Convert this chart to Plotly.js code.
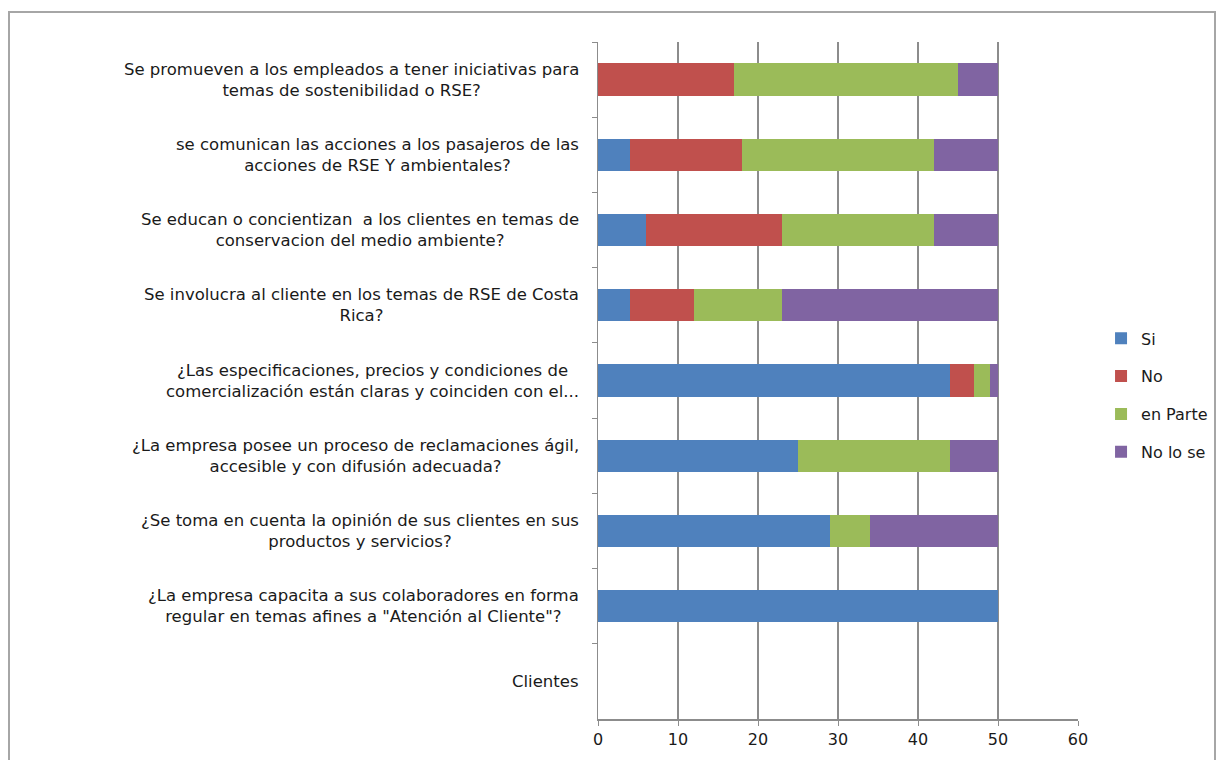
<!DOCTYPE html>
<html>
<head>
<meta charset="utf-8">
<script src="https://cdn.plot.ly/plotly-3.0.1.min.js"></script>
<style>
html,body{margin:0;padding:0;background:#fff;}
#chart{width:1220px;height:760px;}
</style>
</head>
<body>
<div id="chart"></div>
<script>
var categories = [
  "Se promueven a los empleados a tener iniciativas para<br>temas de sostenibilidad o RSE?",
  "se comunican las acciones a los pasajeros de las<br>acciones de RSE Y ambientales?",
  "Se educan o concientizan  a los clientes en temas de<br>conservacion del medio ambiente?",
  "Se involucra al cliente en los temas de RSE de Costa<br>Rica?",
  "¿Las especificaciones, precios y condiciones de<br>comercialización están claras y coinciden con el...",
  "¿La empresa posee un proceso de reclamaciones ágil,<br>accesible y con difusión adecuada?",
  "¿Se toma en cuenta la opinión de sus clientes en sus<br>productos y servicios?",
  "¿La empresa capacita a sus colaboradores en forma<br>regular en temas afines a \"Atención al Cliente\"?",
  "Clientes"
];
var si      = [0, 4, 6, 4, 44, 25, 29, 50, null];
var no      = [17, 14, 17, 8, 3, 0, 0, 0, null];
var enParte = [28, 24, 19, 11, 2, 19, 5, 0, null];
var noLoSe  = [5, 8, 8, 27, 1, 6, 16, 0, null];
var seriesNames = ["Si", "No", "en Parte", "No lo se"];
var xTicks = [0, 10, 20, 30, 40, 50, 60];

var colors = ["#4F81BD", "#C0504D", "#9BBB59", "#8064A2"];
var values = [si, no, enParte, noLoSe];
var FONT = "'DejaVu Sans', 'Open Sans', sans-serif";

var traces = values.map(function(v, i){
  return {
    type: "bar",
    orientation: "h",
    name: seriesNames[i],
    x: v,
    y: categories,
    legendgroup: "g" + i,
    marker: {color: colors[i], line: {width: 0}},
    hoverinfo: "x+name"
  };
});

var annotations = categories.map(function(c){
  return {
    xref: "paper", yref: "y",
    x: -0.035, y: c,
    xanchor: "right", yanchor: "middle",
    align: "center",
    text: c,
    showarrow: false,
    font: {family: FONT, size: 16.5, color: "#1a1a1a"}
  };
});

var layout = {
  width: 1220, height: 760,
  margin: {l: 598, r: 142, t: 42, b: 41, pad: 0, autoexpand: false},
  paper_bgcolor: "#ffffff",
  plot_bgcolor: "#ffffff",
  barmode: "stack",
  bargap: 0.57,
  font: {family: FONT, size: 16, color: "#1a1a1a"},
  xaxis: {
    range: [0, 60],
    tickvals: xTicks,
    ticktext: xTicks.map(String),
    showgrid: true,
    gridcolor: "#8c8c8c",
    gridwidth: 1.5,
    zeroline: false,
    showline: true,
    linecolor: "#8c8c8c",
    linewidth: 1.5,
    ticks: "outside",
    ticklen: 5,
    tickcolor: "#8c8c8c",
    tickfont: {family: FONT, size: 16, color: "#1a1a1a"},
    automargin: false,
    fixedrange: true
  },
  yaxis: {
    type: "category",
    categoryorder: "array",
    categoryarray: categories,
    autorange: "reversed",
    showticklabels: false,
    tickson: "boundaries",
    ticks: "outside",
    ticklen: 5,
    tickcolor: "#8c8c8c",
    showgrid: false,
    zeroline: false,
    showline: true,
    linecolor: "#8c8c8c",
    linewidth: 1.5,
    automargin: false,
    fixedrange: true
  },
  legend: {
    x: 1.048, xanchor: "left",
    y: 0.478, yanchor: "middle",
    traceorder: "grouped",
    tracegroupgap: 14,
    font: {family: FONT, size: 16, color: "#1a1a1a"},
    bgcolor: "rgba(0,0,0,0)",
    itemwidth: 30
  },
  annotations: annotations,
  shapes: [{
    type: "rect", xref: "paper", yref: "paper",
    x0: (9 - 598) / 480, x1: (1215 - 598) / 480,
    y0: -0.2, y1: 1 + (42 - 12) / 677,
    line: {color: "#a6a6a6", width: 2},
    fillcolor: "rgba(0,0,0,0)",
    layer: "below"
  }],
  showlegend: true
};

Plotly.newPlot("chart", traces, layout, {displayModeBar: false, staticPlot: true});
</script>
</body>
</html>
